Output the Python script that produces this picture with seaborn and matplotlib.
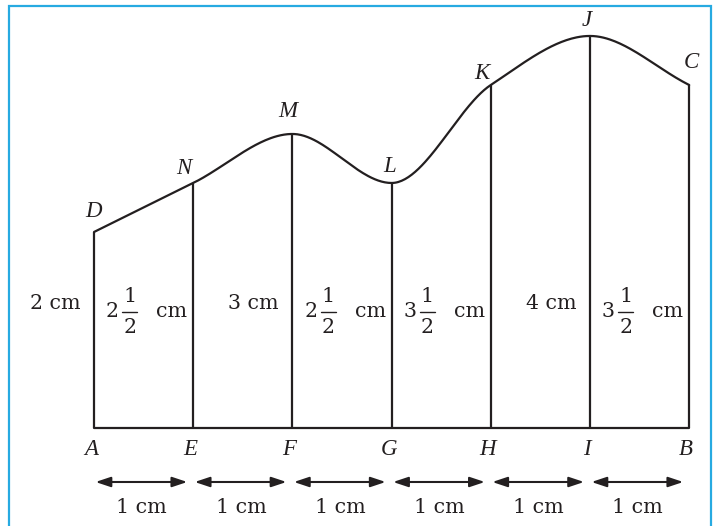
import numpy as np
import matplotlib
matplotlib.use("Agg")
import matplotlib.pyplot as plt
from matplotlib.patches import Rectangle
import seaborn as sns

# base points, tops of the offsets, and the offsets (cm)
base_names = ["A", "E", "F", "G", "H", "I", "B"]
top_names = ["D", "N", "M", "L", "K", "J", "C"]
positions = [0, 1, 2, 3, 4, 5, 6]
heights = [2, 2.5, 3, 2.5, 3.5, 4, 3.5]
gap_labels = ["1 cm"] * 6


def pchip(x, y, n=60):
    # monotone cubic through the given points, only used to draw the smooth boundary
    x = np.asarray(x, float)
    y = np.asarray(y, float)
    h = np.diff(x)
    d = np.diff(y) / h
    m = np.zeros_like(y)
    m[0], m[-1] = d[0], d[-1]
    for i in range(1, len(x) - 1):
        if d[i - 1] * d[i] > 0:
            m[i] = 2 / (1 / d[i - 1] + 1 / d[i])
    xs, ys = [], []
    for i in range(len(x) - 1):
        t = np.linspace(0, 1, n)
        h00 = 2 * t**3 - 3 * t**2 + 1
        h10 = t**3 - 2 * t**2 + t
        h01 = -2 * t**3 + 3 * t**2
        h11 = t**3 - t**2
        xs.append(x[i] + t * h[i])
        ys.append(h00 * y[i] + h10 * h[i] * m[i] + h01 * y[i + 1] + h11 * h[i] * m[i + 1])
    return np.concatenate(xs), np.concatenate(ys)


sns.set_theme(style="white")
plt.rcParams["font.family"] = ["DejaVu Serif"]

fig = plt.figure(figsize=(7.13, 5.26), dpi=100)
ax = fig.add_axes([0, 0, 1, 1])
ax.set_xlim(-0.948, 6.24)
ax.set_ylim(-1.0, 4.367)
ax.axis("off")

ink = "#231f20"
lw = 1.6
fs = 14.8
letter_font = dict(family="Liberation Serif", style="italic", fontsize=16.5)

cx, cy = pchip(positions, heights)
sns.lineplot(x=cx, y=cy, sort=False, estimator=None, color=ink, linewidth=lw, ax=ax)
ax.vlines(positions, 0, heights, color=ink, linewidth=lw)
ax.plot([positions[0], positions[-1]], [0, 0], color=ink, linewidth=lw)

# label offsets from each top point (cm)
top_offsets = [(-0.01, 0.15), (-0.1, 0.09), (-0.045, 0.17), (-0.015, 0.11),
               (-0.09, 0.06), (-0.03, 0.1), (0.02, 0.17)]
for x, h, name, (dx, dy) in zip(positions, heights, top_names, top_offsets):
    ax.text(x + dx, h + dy, name, ha="center", va="baseline", color=ink, **letter_font)

for x, name in zip(positions, base_names):
    ax.text(x - 0.03, -0.276, name, ha="center", va="baseline", color=ink, **letter_font)

# height labels, mixed numbers written as whole + stacked half
for x, h in zip(positions, heights):
    whole = int(h)
    if h == whole:
        ax.text(x - 0.14, 1.214, f"{whole} cm", fontsize=fs, ha="right",
                va="baseline", color=ink)
    else:
        ax.text(x - 0.06, 1.133, "cm", fontsize=fs, ha="right", va="baseline", color=ink)
        xc = x - 0.64
        ax.text(xc, 1.286, "1", fontsize=fs, ha="center", va="baseline", color=ink)
        ax.text(xc, 0.969, "2", fontsize=fs, ha="center", va="baseline", color=ink)
        ax.plot([xc - 0.075, xc + 0.075], [1.184, 1.184], color=ink, linewidth=1.0)
        ax.text(xc - 0.11, 1.133, str(whole), fontsize=fs, ha="right",
                va="baseline", color=ink)

for i, lab in enumerate(gap_labels):
    x0, x1 = positions[i], positions[i + 1]
    ax.annotate("", xy=(x1 - 0.06, -0.551), xytext=(x0 + 0.015, -0.551),
                arrowprops=dict(arrowstyle="<|-|>,head_length=0.75,head_width=0.25",
                                color=ink, lw=1.5, shrinkA=0, shrinkB=0))
    ax.text((x0 + x1) / 2 - 0.02, -0.867, lab, fontsize=fs,
            ha="center", va="baseline", color=ink)

# light blue frame
fig.patches.append(Rectangle((9 / 713, -0.05), 702 / 713, 1.05 - 6 / 526,
                             transform=fig.transFigure, fill=False,
                             edgecolor="#27aae1", linewidth=1.6))

fig.savefig("out.png", dpi=100)
